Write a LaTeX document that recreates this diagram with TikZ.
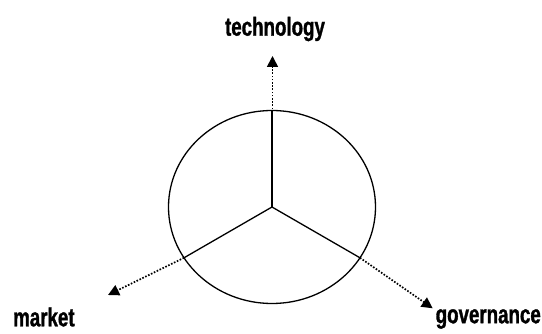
\documentclass[tikz,border=0pt]{standalone}
\usepackage{fontspec}
\usepackage{tikz}
\usetikzlibrary{arrows.meta,positioning,shapes.geometric}
\newfontfamily\axisfont[FakeStretch=0.72,FakeBold=1.2]{Liberation Sans}
\tikzset{
  axislabel/.style={
    font=\axisfont\bfseries\fontsize{26}{28}\selectfont,
    inner sep=0pt, text=black
  },
  spoke/.style={line width=1.3pt, draw=black},
  ringbox/.style={
    ellipse, draw=black, line width=1.3pt,
    minimum width=207pt, minimum height=193pt,
    inner sep=0pt, outer sep=0pt
  },
  axisarrow/.style={
    -{Triangle[length=11pt,width=11pt]}, line width=1.7pt,
    dash pattern=on 1.6pt off 1.6pt
  },
}

\begin{document}
\begin{tikzpicture}[x=1pt, y=-1pt]
  \useasboundingbox (0,0) rectangle (542,334);

  % Circle and centre
  \coordinate (mid) at (272,207);
  \node[ringbox] at (mid) (ring) {};
  \draw[spoke] (mid) -- (ring.90);
  \draw[spoke] (mid) -- (ring.210);
  \draw[spoke] (mid) -- (ring.330);

  % Arrow ends
  \coordinate (techstart) at (272.5,138);
  \coordinate (techtip) at (272.5,56);
  \coordinate (markettip) at (108,295);
  \coordinate (govtip) at (432.7,308.3);

  % Dotted axes
  \draw[axisarrow] (techstart) -- (techtip);
  \draw[axisarrow] (ring.210) -- (markettip);
  \draw[axisarrow] (ring.330) -- (govtip);

  % Labels
  \node[axislabel] at (275,29) (tech) {technology};
  \node[axislabel, anchor=west] at (13,317) (market) {market};
  \node[axislabel, anchor=east] at (541,319) (gov) {governance};
\end{tikzpicture}
\end{document}
